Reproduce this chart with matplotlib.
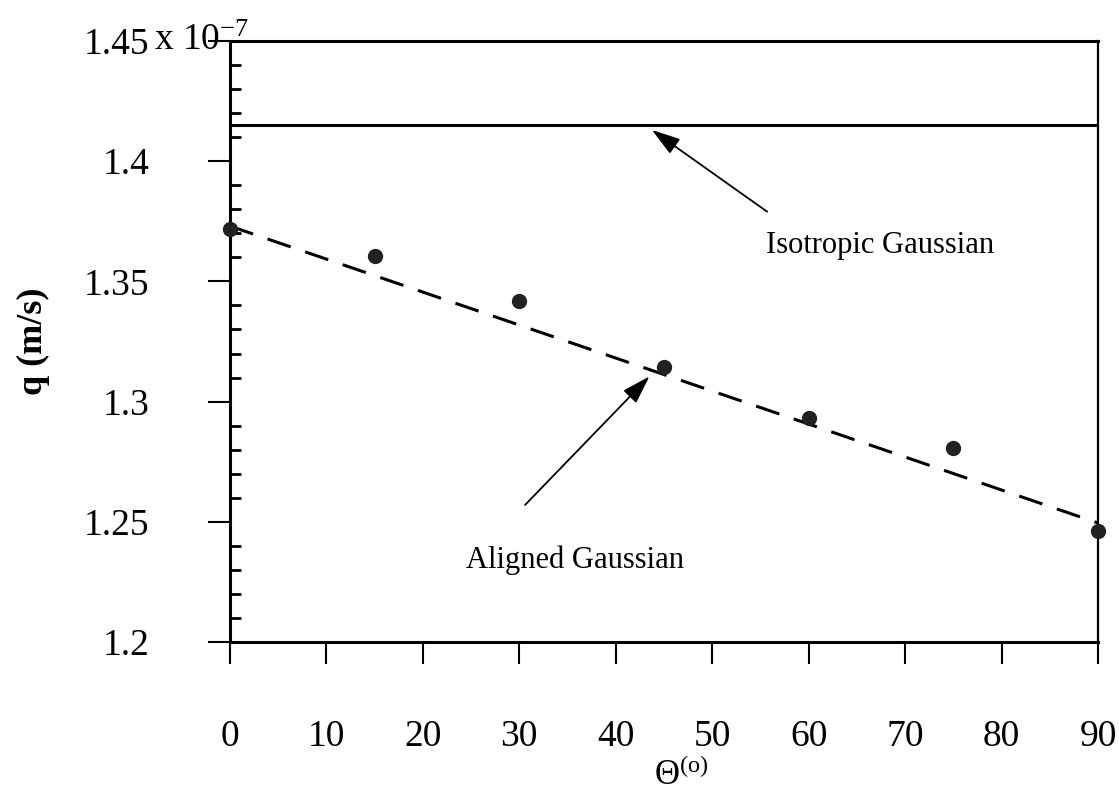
import numpy as np
import matplotlib
matplotlib.use("Agg")
import matplotlib.pyplot as plt
from matplotlib.ticker import MultipleLocator

plt.rcParams["font.family"] = ["Liberation Serif", "DejaVu Serif"]
plt.rcParams["mathtext.fontset"] = "custom"
plt.rcParams["mathtext.rm"] = "Liberation Serif"
plt.rcParams["mathtext.it"] = "Liberation Serif:italic"
plt.rcParams["mathtext.default"] = "regular"

# data (q in units of 1e-7 m/s)
theta = [0, 15, 30, 45, 60, 75, 90]
q_aligned = [1.372, 1.3606, 1.342, 1.3144, 1.2932, 1.2807, 1.246]
fit_theta = [0, 90]
fit_q = [1.373, 1.2495]
q_isotropic = 1.415

x_ticks = [0, 10, 20, 30, 40, 50, 60, 70, 80, 90]
y_ticks = [1.2, 1.25, 1.3, 1.35, 1.4, 1.45]
y_tick_labels = ["1.2", "1.25", "1.3", "1.35", "1.4", "1.45"]

fig = plt.figure(figsize=(11.19, 7.95), dpi=100)
ax = fig.add_axes([0.2055, 0.1925, 0.7757, 0.7559])

ax.axhline(q_isotropic, color="black", lw=2.2)
ax.plot(fit_theta, fit_q, color="black", lw=2.2, dashes=(8, 5), zorder=2)
ax.plot(theta, q_aligned, "o", color="#222222", ms=10, zorder=3, clip_on=False)

ax.set_xlim(0, 90)
ax.set_ylim(1.2, 1.45)
ax.set_xticks(x_ticks)
ax.set_yticks(y_ticks)
ax.set_yticklabels(y_tick_labels)
ax.yaxis.set_minor_locator(MultipleLocator(0.01))

ax.tick_params(axis="both", which="major", direction="out", length=16,
               width=1.5, labelsize=27, color="black")
ax.tick_params(axis="x", which="major", pad=40)
ax.tick_params(axis="y", which="major", pad=42)
ax.tick_params(axis="y", which="minor", direction="in", length=8, width=2)
for side in ["left", "bottom", "top"]:
    ax.spines[side].set_linewidth(2.2)
ax.spines["right"].set_linewidth(1.6)

# exponent written next to the top tick label, as in the original
ax.text(-0.088, 1.0, "x 10$^{-7}$", transform=ax.transAxes, fontsize=27,
        ha="left", va="center")

ax.set_ylabel("q (m/s)", fontsize=26, fontweight="bold")
ax.yaxis.set_label_coords(-0.207, 0.5)
ax.set_xlabel("Θ$^{(o)}$", fontsize=25)
ax.xaxis.set_label_coords(0.52, -0.195)

arrow = dict(arrowstyle="-|>,head_length=0.8,head_width=0.25",
             mutation_scale=22, lw=1.3, color="black", shrinkA=0, shrinkB=0)
ax.annotate("", xy=(43.75, 1.413), xytext=(55.7, 1.379), arrowprops=arrow)
ax.text(67.4, 1.365, "Isotropic Gaussian", fontsize=22, ha="center", va="center")
ax.annotate("", xy=(43.5, 1.3105), xytext=(30.6, 1.257), arrowprops=arrow)
ax.text(35.8, 1.234, "Aligned Gaussian", fontsize=22, ha="center", va="center")

fig.savefig("out.png", dpi=100)
